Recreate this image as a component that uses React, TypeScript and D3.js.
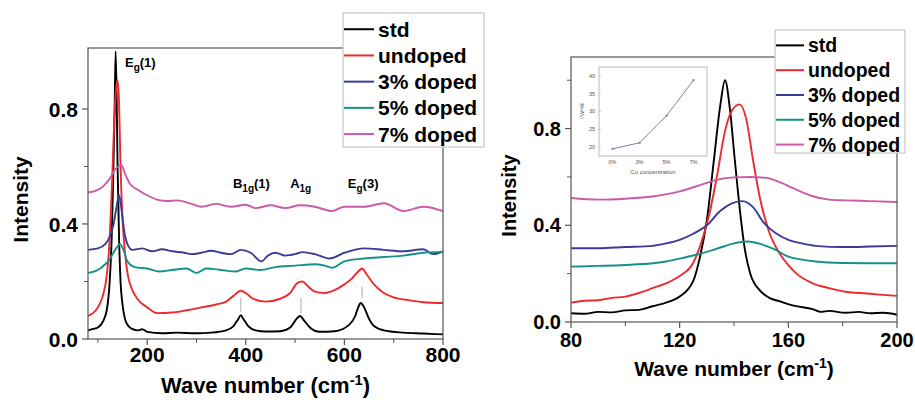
import * as d3 from 'd3';

// wave number (cm-1), intensity
const leftStd: [number, number][] = [
  [80, 0.03], [90, 0.035], [100, 0.04], [110, 0.06], [118, 0.1], [124, 0.2], [128, 0.35],
  [131, 0.55], [134, 0.8], [136, 1.0], [138, 0.85], [140, 0.6], [143, 0.35], [146, 0.2],
  [150, 0.12], [155, 0.07], [162, 0.045], [170, 0.035], [180, 0.03], [190, 0.034], [200, 0.025],
  [230, 0.02], [260, 0.022], [300, 0.02], [330, 0.022], [360, 0.03], [375, 0.045], [385, 0.07],
  [390, 0.083], [395, 0.07], [405, 0.045], [420, 0.03], [440, 0.026], [470, 0.027], [490, 0.04],
  [503, 0.07], [510, 0.08], [518, 0.065], [530, 0.04], [550, 0.025], [580, 0.027], [610, 0.05],
  [622, 0.08], [628, 0.11], [633, 0.125], [640, 0.11], [650, 0.07], [660, 0.045], [680, 0.03],
  [720, 0.022], [760, 0.019], [800, 0.016],
];
const leftUndoped: [number, number][] = [
  [80, 0.08], [90, 0.09], [100, 0.11], [110, 0.15], [118, 0.22], [124, 0.35], [129, 0.55],
  [133, 0.75], [137, 0.87], [140, 0.9], [143, 0.82], [146, 0.6], [150, 0.42], [155, 0.3],
  [160, 0.23], [170, 0.17], [180, 0.14], [200, 0.11], [220, 0.09], [250, 0.092], [280, 0.1],
  [310, 0.11], [340, 0.12], [360, 0.13], [375, 0.15], [390, 0.168], [400, 0.16], [415, 0.14],
  [440, 0.13], [470, 0.14], [490, 0.16], [505, 0.195], [515, 0.2], [525, 0.185], [540, 0.165],
  [560, 0.16], [580, 0.17], [600, 0.19], [615, 0.21], [628, 0.235], [636, 0.245], [645, 0.225],
  [660, 0.19], [680, 0.16], [700, 0.145], [730, 0.135], [760, 0.128], [800, 0.125],
];
const left3: [number, number][] = [
  [80, 0.31], [100, 0.315], [115, 0.33], [125, 0.36], [132, 0.4], [138, 0.46], [143, 0.5],
  [148, 0.45], [153, 0.38], [160, 0.33], [170, 0.31], [190, 0.315], [210, 0.305], [230, 0.312],
  [250, 0.305], [275, 0.3], [290, 0.295], [310, 0.3], [330, 0.307], [350, 0.3], [370, 0.295],
  [390, 0.31], [410, 0.3], [432, 0.27], [445, 0.29], [460, 0.3], [480, 0.29], [500, 0.295],
  [515, 0.302], [540, 0.295], [570, 0.28], [600, 0.3], [640, 0.315], [680, 0.31], [720, 0.305],
  [760, 0.312], [780, 0.295], [800, 0.305],
];
const left5: [number, number][] = [
  [80, 0.23], [100, 0.24], [115, 0.26], [125, 0.28], [135, 0.31], [145, 0.33], [152, 0.31],
  [160, 0.27], [175, 0.25], [200, 0.245], [225, 0.235], [250, 0.24], [280, 0.245], [300, 0.23],
  [320, 0.245], [350, 0.24], [380, 0.235], [400, 0.245], [430, 0.24], [460, 0.25], [500, 0.255],
  [540, 0.26], [560, 0.255], [575, 0.248], [600, 0.27], [640, 0.28], [680, 0.285], [720, 0.29],
  [760, 0.3], [800, 0.303],
];
const left7: [number, number][] = [
  [80, 0.51], [95, 0.515], [110, 0.53], [125, 0.56], [135, 0.59], [142, 0.6], [148, 0.605],
  [155, 0.575], [165, 0.54], [180, 0.52], [200, 0.5], [220, 0.485], [240, 0.48], [260, 0.482],
  [290, 0.47], [310, 0.46], [340, 0.47], [370, 0.46], [400, 0.467], [420, 0.455], [450, 0.465],
  [480, 0.455], [510, 0.465], [540, 0.46], [575, 0.445], [600, 0.46], [640, 0.46], [680, 0.472],
  [720, 0.445], [760, 0.46], [800, 0.445],
];

// right panel: zoom on Eg(1)
const rightStd: [number, number][] = [
  [80, 0.036], [85, 0.034], [90, 0.042], [95, 0.04], [100, 0.048], [105, 0.05], [110, 0.065],
  [115, 0.08], [120, 0.105], [125, 0.17], [127.5, 0.27], [130, 0.42], [132.5, 0.66], [135, 0.9],
  [136.7, 1.0], [138.5, 0.88], [140.3, 0.67], [142.2, 0.46], [144, 0.3], [146, 0.2], [149.6, 0.13],
  [153, 0.1], [157, 0.085], [162, 0.068], [169, 0.053], [172, 0.042], [175, 0.046], [181, 0.038],
  [186, 0.042], [190, 0.036], [195, 0.038], [200, 0.03],
];
const rightUndoped: [number, number][] = [
  [80, 0.08], [85, 0.088], [90, 0.09], [95, 0.1], [100, 0.105], [105, 0.12], [110, 0.14],
  [116, 0.165], [120, 0.19], [125, 0.245], [128, 0.33], [131, 0.45], [134, 0.62], [136.5, 0.78],
  [139, 0.87], [142, 0.9], [144.5, 0.84], [147, 0.67], [149.6, 0.51], [153, 0.37], [157, 0.28],
  [160, 0.235], [163, 0.2], [169, 0.16], [175, 0.14], [181, 0.125], [189, 0.118], [195, 0.112],
  [200, 0.108],
];
const right3: [number, number][] = [
  [80, 0.305], [90, 0.305], [100, 0.31], [110, 0.315], [115, 0.325], [120, 0.34], [125, 0.365],
  [130, 0.4], [135, 0.46], [139, 0.49], [143, 0.5], [147, 0.475], [151, 0.41], [155, 0.37],
  [160, 0.34], [165, 0.325], [170, 0.315], [180, 0.31], [190, 0.312], [200, 0.315],
];
const right5: [number, number][] = [
  [80, 0.229], [90, 0.232], [100, 0.236], [110, 0.243], [115, 0.25], [120, 0.262], [125, 0.275],
  [130, 0.29], [135, 0.308], [140, 0.325], [145, 0.333], [150, 0.322], [155, 0.3], [160, 0.27],
  [165, 0.258], [170, 0.25], [180, 0.244], [190, 0.243], [200, 0.243],
];
const right7: [number, number][] = [
  [80, 0.513], [90, 0.506], [100, 0.51], [110, 0.519], [120, 0.54], [128, 0.568], [134, 0.589],
  [140, 0.598], [146, 0.6], [152, 0.596], [157, 0.577], [163, 0.547], [169, 0.52], [175, 0.506],
  [181, 0.503], [190, 0.5], [200, 0.496],
];

const seriesNames = ['std', 'undoped', '3% doped', '5% doped', '7% doped'];
const seriesColors = ['#000000', '#ec2a2f', '#3b3b98', '#15918c', '#cc5aa8'];

// inset: FWHM vs Co concentration
const insetCats = ['0%', '3%', '5%', '7%'];
const insetFwhm = [19.5, 21.2, 28.8, 38.8];
const insetTicks = [20, 25, 30, 35, 40];

const leftXMajor = [200, 400, 600, 800];
const leftXMinor = [100, 300, 500, 700];
const rightXMajor = [80, 120, 160, 200];
const rightXMinor = [100, 140, 180];
const yMajor = [0, 0.4, 0.8];
const leftYMinor = [0.2, 0.6];
const rightYMinor = [0.2, 0.6, 1.0];

// peak marks between undoped and std
const peakMarks = [
  { w: 390, v0: 0.095, v1: 0.143 },
  { w: 512, v0: 0.089, v1: 0.143 },
  { w: 636, v0: 0.142, v1: 0.182 },
];

const font = '"Liberation Sans", Arial, sans-serif';
const axisColor = '#555';

type Scale = d3.ScaleLinear<number, number>;

function Panel({
  x, y, series, xMajor, xMinor, yMinor, fs, xLabelDy, titleDy, yTitleX,
}: {
  x: Scale; y: Scale; series: [number, number][][]; xMajor: number[]; xMinor: number[];
  yMinor: number[]; fs: number; xLabelDy: number; titleDy: number; yTitleX: number;
}) {
  const [x0, x1] = x.range();
  const [y0, y1] = y.range();
  const line = d3
    .line<[number, number]>()
    .x((d) => x(d[0]))
    .y((d) => y(d[1]))
    .curve(d3.curveMonotoneX);
  return (
    <g fontFamily={font} fontWeight="bold">
      {series.map((s, i) => (
        <path key={i} d={line(s) ?? ''} fill="none" stroke={seriesColors[i]} strokeWidth={1.9} strokeLinejoin="round" />
      ))}
      <rect x={x0} y={y1} width={x1 - x0} height={y0 - y1} fill="none" stroke={axisColor} strokeWidth={1.2} />
      {xMajor.map((t) => (
        <g key={t}>
          <line x1={x(t)} x2={x(t)} y1={y0} y2={y0 + 6} stroke={axisColor} strokeWidth={1.2} />
          <text x={x(t)} y={y0 + xLabelDy} textAnchor="middle" fontSize={fs}>{t}</text>
        </g>
      ))}
      {xMinor.map((t) => (
        <line key={t} x1={x(t)} x2={x(t)} y1={y0} y2={y0 + 4} stroke={axisColor} strokeWidth={1} />
      ))}
      {yMajor.map((t) => (
        <g key={t}>
          <line x1={x0 - 6} x2={x0} y1={y(t)} y2={y(t)} stroke={axisColor} strokeWidth={1.2} />
          <text x={x0 - 10} y={y(t)} dy="0.36em" textAnchor="end" fontSize={fs}>{t.toFixed(1)}</text>
        </g>
      ))}
      {yMinor.map((t) => (
        <line key={t} x1={x0 - 4} x2={x0} y1={y(t)} y2={y(t)} stroke={axisColor} strokeWidth={1} />
      ))}
      <text x={(x0 + x1) / 2} y={y0 + titleDy} textAnchor="middle" fontSize={fs + 1}>
        Wave number (cm<tspan dy={-8} fontSize={fs * 0.7}>-1</tspan><tspan dy={8}>)</tspan>
      </text>
      <text transform={`translate(${yTitleX},${(y0 + y1) / 2 + 6}) rotate(-90)`} textAnchor="middle" dy="0.36em" fontSize={fs}>
        Intensity
      </text>
    </g>
  );
}

function Legend({ x, y, w, h, step, fs, lineLen }: { x: number; y: number; w: number; h: number; step: number; fs: number; lineLen: number }) {
  return (
    <g fontFamily={font} fontWeight="bold">
      <rect x={x} y={y} width={w} height={h} fill="#fff" stroke="#bbb" strokeWidth={1} />
      {seriesNames.map((n, i) => {
        const cy = y + step * 0.62 + i * step;
        return (
          <g key={n}>
            <line x1={x + 1} x2={x + 1 + lineLen} y1={cy} y2={cy} stroke={seriesColors[i]} strokeWidth={2} />
            <text x={x + lineLen + 5} y={cy} dy="0.36em" fontSize={fs}>{n}</text>
          </g>
        );
      })}
    </g>
  );
}

function Inset() {
  const x = d3.scalePoint<string>().domain(insetCats).range([599, 707]).padding(0.5);
  const y = d3.scaleLinear().domain([17.5, 42.5]).range([156, 67]);
  const line = d3
    .line<number>()
    .x((_, i) => x(insetCats[i]) ?? 0)
    .y((d) => y(d));
  return (
    <g fontFamily={font} fill="#555">
      <rect x={599} y={67} width={108} height={89} fill="#fff" stroke="#aaa" strokeWidth={0.8} />
      <path d={line(insetFwhm) ?? ''} fill="none" stroke="#7c7cb8" strokeWidth={1} />
      {insetFwhm.map((v, i) => (
        <rect key={i} x={(x(insetCats[i]) ?? 0) - 1} y={y(v) - 1} width={2} height={2} fill="#7c7cb8" />
      ))}
      {insetTicks.map((t) => (
        <g key={t}>
          <line x1={599} x2={601} y1={y(t)} y2={y(t)} stroke="#aaa" strokeWidth={0.6} />
          <text x={595} y={y(t)} dy="0.35em" textAnchor="end" fontSize={5.5}>{t}</text>
        </g>
      ))}
      {insetCats.map((c) => (
        <text key={c} x={x(c)} y={164} textAnchor="middle" fontSize={5.5}>{c}</text>
      ))}
      <text x={653} y={174} textAnchor="middle" fontSize={6}>Co concentration</text>
      <text transform="translate(584,111) rotate(-90)" textAnchor="middle" fontSize={5}>FWHM</text>
    </g>
  );
}

export default function App() {
  const lx = d3.scaleLinear().domain([80, 800]).range([88, 443]);
  const ly = d3.scaleLinear().domain([0, 1.012]).range([339, 48]);
  const rx = d3.scaleLinear().domain([80, 200]).range([571, 897]);
  const ry = d3.scaleLinear().domain([0, 1.096]).range([322, 57]);

  return (
    <svg width={915} height={400} style={{ position: 'absolute', left: 0, top: 0, background: '#fff' }}>
      <Panel
        x={lx} y={ly} series={[leftStd, leftUndoped, left3, left5, left7]}
        xMajor={leftXMajor} xMinor={leftXMinor} yMinor={leftYMinor}
        fs={21} xLabelDy={23} titleDy={54} yTitleX={20}
      />
      {peakMarks.map((p) => (
        <line key={p.w} x1={lx(p.w)} x2={lx(p.w)} y1={ly(p.v0)} y2={ly(p.v1)} stroke="#aaa" strokeWidth={1} />
      ))}
      <g fontFamily={font} fontWeight="bold" fontSize={13}>
        <text x={lx(155)} y={ly(0.946)}>E<tspan dy={4} fontSize={10}>g</tspan><tspan dy={-4}>(1)</tspan></text>
        <text x={lx(374)} y={ly(0.525)}>B<tspan dy={4} fontSize={10}>1g</tspan><tspan dy={-4}>(1)</tspan></text>
        <text x={lx(490)} y={ly(0.525)}>A<tspan dy={4} fontSize={10}>1g</tspan></text>
        <text x={lx(607)} y={ly(0.525)}>E<tspan dy={4} fontSize={10}>g</tspan><tspan dy={-4}>(3)</tspan></text>
      </g>
      <Legend x={343} y={13} w={141} h={134} step={26.2} fs={21} lineLen={30} />

      <Panel
        x={rx} y={ry} series={[rightStd, rightUndoped, right3, right5, right7]}
        xMajor={rightXMajor} xMinor={rightXMinor} yMinor={rightYMinor}
        fs={20} xLabelDy={25} titleDy={54} yTitleX={509}
      />
      <Inset />
      <Legend x={775} y={30} w={130} h={123} step={24.8} fs={19.5} lineLen={28} />
    </svg>
  );
}
